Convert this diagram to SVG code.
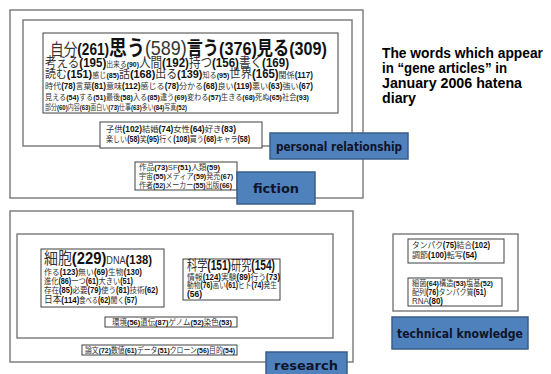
<svg xmlns="http://www.w3.org/2000/svg" width="551" height="374" viewBox="0 0 551 374">
<style>
text{font-family:"Liberation Sans","Noto Sans CJK JP",sans-serif;fill:#333;}
.n{font-weight:bold;fill:#111;}
.g{fill:none;stroke:#808080;stroke-width:1.5;}
.b{fill:#fff;stroke:#404040;stroke-width:1;}
.lab{fill:#4f81bd;stroke:#385d8a;stroke-width:1.5;}
.lt{font-family:"DejaVu Sans","Liberation Sans",sans-serif;font-weight:bold;font-size:13px;fill:#10142a;text-anchor:middle;}
.title{font-family:"Liberation Sans","DejaVu Sans",sans-serif;font-weight:bold;font-size:14px;fill:#000;}
</style>
<rect width="551" height="374" fill="#fff"/>

<g id="fiction-group">
<rect class="g" x="10" y="10" width="353" height="188"/>
</g>
<g id="personal-group">
<rect class="g" x="23" y="20" width="329" height="126" fill="#fff"/>
</g>

<g id="main-words">
<rect class="b" x="43" y="33" width="295" height="80"/>
<text x="50" y="55" textLength="277" lengthAdjust="spacingAndGlyphs"><tspan font-size="16">自分</tspan><tspan class="n" font-size="16">(261)</tspan><tspan font-size="21" font-weight="bold" fill="#111">思う</tspan><tspan font-size="21">(589)</tspan><tspan font-size="19" font-weight="bold" fill="#111">言う(376)</tspan><tspan class="n" font-size="19">見る(309)</tspan></text>
<text x="45" y="67" textLength="244" lengthAdjust="spacingAndGlyphs"><tspan font-size="13.5">考える</tspan><tspan class="n" font-size="13.5">(195)</tspan><tspan font-size="8">出来る</tspan><tspan class="n" font-size="8">(90)</tspan><tspan font-size="13.5">人間</tspan><tspan class="n" font-size="13.5">(192)</tspan><tspan font-size="13.5">持つ</tspan><tspan class="n" font-size="13.5">(156)</tspan><tspan font-size="13.5">書く</tspan><tspan class="n" font-size="13.5">(169)</tspan></text>
<text x="45" y="78" textLength="268" lengthAdjust="spacingAndGlyphs"><tspan font-size="11.5">読む</tspan><tspan class="n" font-size="11.5">(151)</tspan><tspan font-size="7.5">感じ</tspan><tspan class="n" font-size="7.5">(85)</tspan><tspan font-size="11.5">話</tspan><tspan class="n" font-size="11.5">(168)</tspan><tspan font-size="11.5">出る</tspan><tspan class="n" font-size="11.5">(139)</tspan><tspan font-size="7.5">知る</tspan><tspan class="n" font-size="7.5">(95)</tspan><tspan font-size="12">世界</tspan><tspan class="n" font-size="12">(165)</tspan><tspan font-size="8.5">関係</tspan><tspan class="n" font-size="8.5">(117)</tspan></text>
<text x="45" y="88.5" font-size="8.5" textLength="268" lengthAdjust="spacingAndGlyphs">時代<tspan class="n">(78)</tspan>言葉<tspan class="n">(81)</tspan>意味<tspan class="n">(112)</tspan>感じる<tspan class="n">(78)</tspan>分かる<tspan class="n">(68)</tspan>良い<tspan class="n">(119)</tspan>悪い<tspan class="n">(63)</tspan>強い<tspan class="n">(67)</tspan></text>
<text x="45" y="99.5" font-size="8" textLength="264" lengthAdjust="spacingAndGlyphs">見える<tspan class="n">(54)</tspan>する<tspan class="n">(51)</tspan>最後<tspan class="n">(58)</tspan>入る<tspan class="n">(85)</tspan>違う<tspan class="n">(69)</tspan>変わる<tspan class="n">(57)</tspan>生きる<tspan class="n">(68)</tspan>死ぬ<tspan class="n">(65)</tspan>社会<tspan class="n">(93)</tspan></text>
<text x="45" y="110" font-size="8" textLength="142" lengthAdjust="spacingAndGlyphs">部分<tspan class="n">(60)</tspan>内容<tspan class="n">(63)</tspan>面白い<tspan class="n">(73)</tspan>仕事<tspan class="n">(63)</tspan>多い<tspan class="n">(84)</tspan>写真<tspan class="n">(52)</tspan></text>
</g>

<g id="personal-words">
<rect class="b" x="100" y="122" width="162" height="26"/>
<text x="106" y="132" font-size="8.5" textLength="130" lengthAdjust="spacingAndGlyphs">子供<tspan class="n">(102)</tspan>結婚<tspan class="n">(74)</tspan>女性<tspan class="n">(64)</tspan>好き<tspan class="n">(83)</tspan></text>
<text x="106" y="142" font-size="8.5" textLength="144" lengthAdjust="spacingAndGlyphs">楽しい<tspan class="n">(58)</tspan>笑<tspan class="n">(95)</tspan>行く<tspan class="n">(108)</tspan>買う<tspan class="n">(68)</tspan>キャラ<tspan class="n">(58)</tspan></text>
</g>

<g id="personal-label">
<rect class="lab" x="270" y="133" width="138" height="26"/>
<text class="lt" x="339" y="151" textLength="126" lengthAdjust="spacingAndGlyphs">personal relationship</text>
</g>

<g id="fiction-words">
<rect class="b" x="135" y="162" width="102" height="28"/>
<text x="139" y="170" font-size="8" textLength="81" lengthAdjust="spacingAndGlyphs">作品<tspan class="n">(73)</tspan>SF<tspan class="n">(51)</tspan>人類<tspan class="n">(59)</tspan></text>
<text x="139" y="179" font-size="8" textLength="94" lengthAdjust="spacingAndGlyphs">宇宙<tspan class="n">(55)</tspan>メディア<tspan class="n">(59)</tspan>発売<tspan class="n">(67)</tspan></text>
<text x="139" y="188" font-size="8" textLength="93" lengthAdjust="spacingAndGlyphs">作者<tspan class="n">(52)</tspan>メーカー<tspan class="n">(55)</tspan>出版<tspan class="n">(66)</tspan></text>
</g>

<g id="fiction-label">
<rect class="lab" x="237" y="172" width="78" height="32"/>
<text class="lt" x="276" y="193" font-size="14">fiction</text>
</g>

<g id="title">
<text class="title" x="382" y="58" textLength="161" lengthAdjust="spacingAndGlyphs">The words which appear</text>
<text class="title" x="382" y="73" textLength="125" lengthAdjust="spacingAndGlyphs">in “gene articles”  in</text>
<text class="title" x="382" y="88" textLength="140" lengthAdjust="spacingAndGlyphs">January 2006 hatena</text>
<text class="title" x="382" y="103" textLength="34" lengthAdjust="spacingAndGlyphs">diary</text>
</g>

<g id="research-group">
<rect class="g" x="10" y="211" width="343" height="151"/>
<rect class="g" x="17" y="234" width="316" height="104"/>
</g>

<g id="cell-words">
<rect class="b" x="41" y="249" width="123" height="58"/>
<text x="44" y="264" textLength="108" lengthAdjust="spacingAndGlyphs"><tspan font-size="16">細胞</tspan><tspan class="n" font-size="17">(229)</tspan><tspan font-size="10.5">DNA</tspan><tspan class="n" font-size="13">(138)</tspan></text>
<text x="44" y="275" font-size="8.5" textLength="98" lengthAdjust="spacingAndGlyphs">作る<tspan class="n">(123)</tspan>無い<tspan class="n">(69)</tspan>生物<tspan class="n">(130)</tspan></text>
<text x="44" y="284" font-size="8.5" textLength="89" lengthAdjust="spacingAndGlyphs">進化<tspan class="n">(86)</tspan>一つ<tspan class="n">(61)</tspan>大きい<tspan class="n">(51)</tspan></text>
<text x="44" y="293" font-size="8.5" textLength="114" lengthAdjust="spacingAndGlyphs">存在<tspan class="n">(85)</tspan>必要<tspan class="n">(79)</tspan>使う<tspan class="n">(81)</tspan>技術<tspan class="n">(62)</tspan></text>
<text x="44" y="303" textLength="93" lengthAdjust="spacingAndGlyphs"><tspan font-size="10.5">日本</tspan><tspan class="n" font-size="9.5">(114)</tspan><tspan font-size="7.5">食べる</tspan><tspan class="n" font-size="8.5">(62)</tspan><tspan font-size="8.5">聞く</tspan><tspan class="n" font-size="8.5">(57)</tspan></text>
</g>

<g id="science-words">
<rect class="b" x="183" y="259" width="97" height="41"/>
<text x="187" y="270" textLength="88" lengthAdjust="spacingAndGlyphs"><tspan font-size="14">科学</tspan><tspan class="n" font-size="14">(151)</tspan><tspan font-size="14">研究</tspan><tspan class="n" font-size="14">(154)</tspan></text>
<text x="187" y="280" font-size="8.5" textLength="93" lengthAdjust="spacingAndGlyphs">情報<tspan class="n">(124)</tspan>実験<tspan class="n">(89)</tspan>行う<tspan class="n">(73)</tspan></text>
<text x="187" y="288" font-size="8.5" textLength="90" lengthAdjust="spacingAndGlyphs">動物<tspan class="n">(76)</tspan>高い<tspan class="n">(61)</tspan>ヒト<tspan class="n">(74)</tspan>発生</text>
<text x="187" y="297" font-size="8.5" class="n">(56)</text>
</g>

<g id="genome-words">
<rect class="b" x="105" y="317" width="132" height="10"/>
<text x="112" y="325" font-size="8" textLength="120" lengthAdjust="spacingAndGlyphs">環境<tspan class="n">(56)</tspan>遺伝<tspan class="n">(87)</tspan>ゲノム<tspan class="n">(52)</tspan>染色<tspan class="n">(53)</tspan></text>
</g>

<g id="paper-words">
<rect class="b" x="82" y="345" width="155" height="10"/>
<text x="85" y="353" font-size="8" textLength="150" lengthAdjust="spacingAndGlyphs">論文<tspan class="n">(72)</tspan>数値<tspan class="n">(61)</tspan>データ<tspan class="n">(51)</tspan>クローン<tspan class="n">(56)</tspan>目的<tspan class="n">(54)</tspan></text>
</g>

<g id="research-label">
<rect class="lab" x="266" y="352" width="81" height="26"/>
<text class="lt" x="306" y="370">research</text>
</g>

<g id="technical-group">
<rect class="g" x="393" y="234" width="125" height="77"/>
</g>

<g id="tech-words-1">
<rect class="b" x="408" y="239" width="96" height="24"/>
<text x="412" y="248" font-size="8.5" textLength="78" lengthAdjust="spacingAndGlyphs">タンパク<tspan class="n">(75)</tspan>結合<tspan class="n">(102)</tspan></text>
<text x="412" y="258" font-size="8.5" textLength="65" lengthAdjust="spacingAndGlyphs">調節<tspan class="n">(100)</tspan>転写<tspan class="n">(54)</tspan></text>
</g>

<g id="tech-words-2">
<rect class="b" x="408" y="278" width="94" height="28"/>
<text x="412" y="285.5" font-size="8" textLength="81" lengthAdjust="spacingAndGlyphs">細菌<tspan class="n">(64)</tspan>構造<tspan class="n">(53)</tspan>塩基<tspan class="n">(52)</tspan></text>
<text x="412" y="294.5" font-size="8.5" textLength="74" lengthAdjust="spacingAndGlyphs">配列<tspan class="n">(76)</tspan>タンパク質<tspan class="n">(51)</tspan></text>
<text x="412" y="303.5" font-size="8.5" textLength="31" lengthAdjust="spacingAndGlyphs">RNA<tspan class="n">(80)</tspan></text>
</g>

<g id="technical-label">
<rect class="lab" x="392" y="317" width="136" height="32"/>
<text class="lt" x="460" y="338" textLength="126" lengthAdjust="spacingAndGlyphs">technical knowledge</text>
</g>

<g id="connectors"></g>
</svg>
